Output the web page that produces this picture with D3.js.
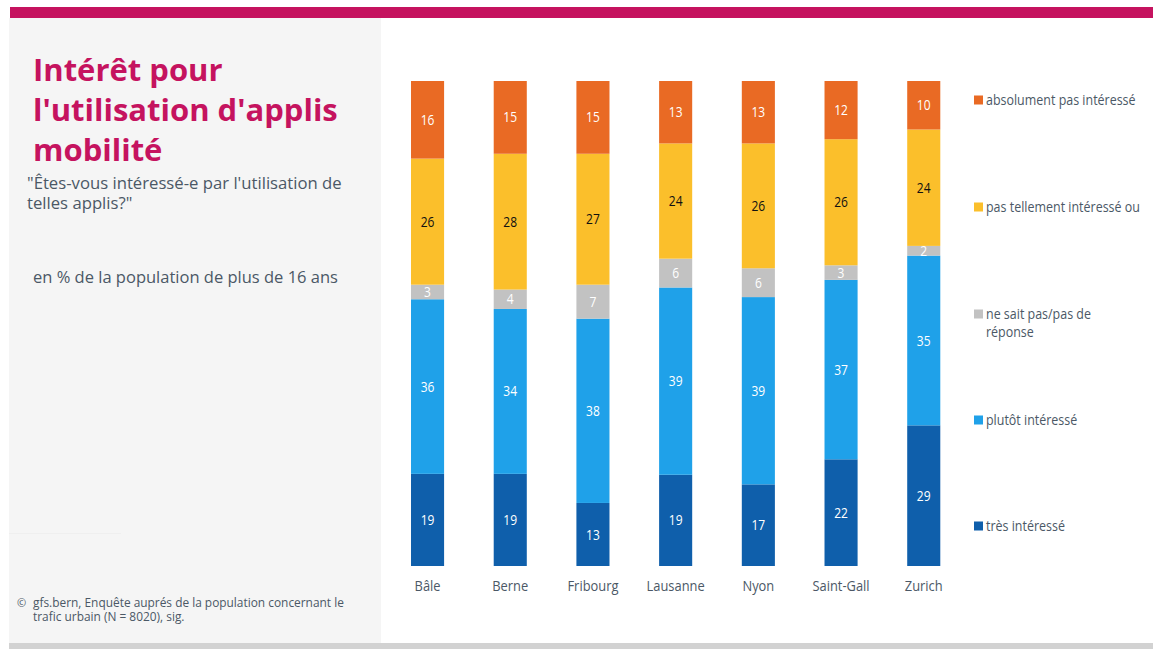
<!DOCTYPE html>
<html>
<head>
<meta charset="utf-8">
<script src="https://cdn.jsdelivr.net/npm/d3@7"></script>
<style>
  html, body { margin: 0; padding: 0; background: #ffffff; }
  svg { display: block; }
</style>
</head>
<body>
<svg id="chart" width="1153" height="649"></svg>
<script>
// Survey results per city (percent of respondents)
const cities = ["Bâle", "Berne", "Fribourg", "Lausanne", "Nyon", "Saint-Gall", "Zurich"];
const tresInteresse   = [19, 19, 13, 19, 17, 22, 29];
const plutotInteresse = [36, 34, 38, 39, 39, 37, 35];
const neSaitPas       = [3, 4, 7, 6, 6, 3, 2];
const pasTellement    = [26, 28, 27, 24, 26, 26, 24];
const absolumentPas   = [16, 15, 15, 13, 13, 12, 10];

const seriesKeys = ["tres", "plutot", "nsp", "pasTell", "absol"];
const seriesNames = {
  absol: ["absolument pas intéressé"],
  pasTell: ["pas tellement intéressé ou"],
  nsp: ["ne sait pas/pas de", "réponse"],
  plutot: ["plutôt intéressé"],
  tres: ["très intéressé"]
};
const seriesColors = {
  tres: "#0f5fab",
  plutot: "#1fa1e9",
  nsp: "#c2c2c2",
  pasTell: "#fbbf2b",
  absol: "#e96a24"
};
const labelColors = { tres: "#ffffff", plutot: "#ffffff", nsp: "#ffffff", pasTell: "#111111", absol: "#ffffff" };

const rows = cities.map((c, i) => ({
  city: c,
  tres: tresInteresse[i],
  plutot: plutotInteresse[i],
  nsp: neSaitPas[i],
  pasTell: pasTellement[i],
  absol: absolumentPas[i]
}));

const svg = d3.select("#chart");
const sans = "'Open Sans', 'Noto Sans', sans-serif";
const textGrey = "#4b5866";
const squeeze = 0.86; // horizontal factor giving the compact labels a condensed look

// Horizontally condense a text element around its anchor x
function condense(sel) {
  sel.each(function () {
    const el = d3.select(this);
    const ax = +el.attr("x") || 0;
    el.attr("transform", `translate(${ax * (1 - squeeze)},0) scale(${squeeze},1)`);
  });
}

// Page frame: header strip, side panel, bottom strip
svg.append("rect").attr("x", 10).attr("y", 7).attr("width", 1143).attr("height", 11).attr("fill", "#c5135f");
svg.append("rect").attr("x", 9).attr("y", 18).attr("width", 372).attr("height", 625).attr("fill", "#f5f5f5");
svg.append("rect").attr("x", 9).attr("y", 533).attr("width", 112).attr("height", 1).attr("fill", "#efefef");
svg.append("rect").attr("x", 9).attr("y", 643).attr("width", 1144).attr("height", 6).attr("fill", "#d2d2d2");

// Title block
const title = svg.append("text")
  .attr("font-family", sans)
  .attr("font-weight", 700)
  .attr("font-size", 31)
  .attr("fill", "#c5135f");
["Intérêt pour", "l'utilisation d'applis", "mobilité"].forEach((t, i) => {
  title.append("tspan").attr("x", 33).attr("y", 81 + i * 40).text(t);
});

const sub = svg.append("text")
  .attr("font-family", sans)
  .attr("font-size", 16.7)
  .attr("fill", textGrey);
["\"Êtes-vous intéressé-e par l'utilisation de", "telles applis?\""].forEach((t, i) => {
  sub.append("tspan").attr("x", 27).attr("y", 189 + i * 20).text(t);
});

svg.append("text")
  .attr("x", 33).attr("y", 283)
  .attr("font-family", sans)
  .attr("font-size", 16.5)
  .attr("fill", textGrey)
  .text("en % de la population de plus de 16 ans");

// Source note
svg.append("text")
  .attr("x", 17).attr("y", 607)
  .attr("font-family", sans)
  .attr("font-size", 11).attr("fill", textGrey).text("©");
const src = svg.append("text")
  .attr("font-family", sans)
  .attr("font-size", 11.9)
  .attr("fill", textGrey);
["gfs.bern, Enquête auprés de la population concernant le", "trafic urbain (N = 8020), sig."].forEach((t, i) => {
  src.append("tspan").attr("x", 33).attr("y", 607 + i * 14).text(t);
});

// Scales
const x = d3.scaleBand().domain(cities).range([386.2, 965.1]).paddingInner(0.6).paddingOuter(0.3);
const y = d3.scaleLinear().domain([0, 1]).range([566, 81]);

const stack = d3.stack().keys(seriesKeys).offset(d3.stackOffsetExpand);
const stacked = stack(rows);

const layers = svg.append("g").selectAll("g")
  .data(stacked)
  .join("g")
  .attr("fill", d => seriesColors[d.key]);

layers.selectAll("rect")
  .data(d => d.map(v => ({ key: d.key, v })))
  .join("rect")
  .attr("x", d => x(d.v.data.city))
  .attr("width", x.bandwidth())
  .attr("y", d => y(d.v[1]))
  .attr("height", d => y(d.v[0]) - y(d.v[1]));

// Value labels centred in each segment
layers.selectAll("text")
  .data(d => d.map(v => ({ key: d.key, v })))
  .join("text")
  .attr("x", d => x(d.v.data.city) + x.bandwidth() / 2)
  .attr("y", d => (y(d.v[0]) + y(d.v[1])) / 2)
  .attr("dy", "0.36em")
  .attr("text-anchor", "middle")
  .attr("font-family", sans)
  .attr("font-size", 14)
  .attr("fill", d => labelColors[d.key])
  .text(d => d.v.data[d.key])
  .call(condense);

// City axis
const axis = svg.append("g")
  .attr("transform", "translate(0,566)")
  .call(d3.axisBottom(x).tickSize(0).tickPadding(14));
axis.select(".domain").remove();
axis.selectAll("text")
  .attr("font-family", sans)
  .attr("font-size", 15)
  .attr("fill", textGrey)
  .call(condense);

// Legend
const legendOrder = ["absol", "pasTell", "nsp", "plutot", "tres"];
const legendY = [100, 207, 314, 420, 526];
const legend = svg.append("g");
legendOrder.forEach((k, i) => {
  legend.append("rect")
    .attr("x", 974).attr("y", legendY[i] - 4.5)
    .attr("width", 9).attr("height", 9)
    .attr("fill", seriesColors[k]);
  seriesNames[k].forEach((line, j) => {
    legend.append("text")
      .attr("x", 986).attr("y", legendY[i] + 5 + j * 18)
      .attr("font-family", sans)
      .attr("font-size", 14.5)
      .attr("fill", textGrey)
      .text(line)
      .call(condense);
  });
});
</script>
</body>
</html>
